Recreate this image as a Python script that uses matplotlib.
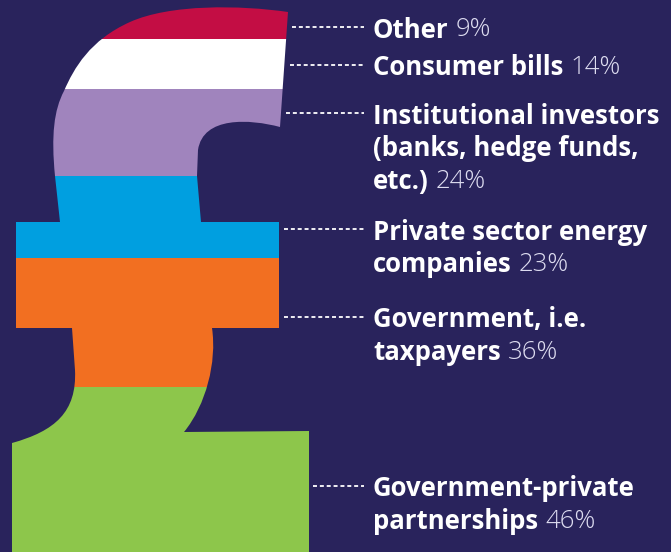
import matplotlib.pyplot as plt
from matplotlib.path import Path
from matplotlib.patches import PathPatch

# survey shares (multiple answers allowed, so they add up to more than 100)
labels = [
    "Other",
    "Consumer bills",
    "Institutional investors\n(banks, hedge funds,\netc.)",
    "Private sector energy\ncompanies",
    "Government, i.e.\ntaxpayers",
    "Government-private\npartnerships",
]
shares = [9, 14, 24, 23, 36, 46]
colors = ["#c30d44", "#ffffff", "#a084bd", "#009fe0", "#f26f21", "#8dc64b"]

BG = "#29235c"
W, H = 671, 552
PX_PER_PCT = 545 / sum(shares)


def dy(py):
    # pixel row (from top) -> stacked-percentage units
    return (H - py) / PX_PER_PCT


fig = plt.figure(figsize=(W / 100, H / 100), dpi=100, facecolor=BG)
ax = fig.add_axes([0, 0, 1, 1])
ax.set_facecolor(BG)
ax.set_xlim(0, W)
ax.set_ylim(0, H / PX_PER_PCT)
ax.axis("off")

# outline of the pound sign, in pixel coordinates
M, L, C, Z = Path.MOVETO, Path.LINETO, Path.CURVE4, Path.CLOSEPOLY
outline = [
    (M, (288, 12)),
    (L, (280, 127)),
    (C, (250, 119)), (C, (203, 116)), (C, (198, 150)),
    (L, (197, 176)),
    (L, (201, 222)),
    (L, (279, 222)),
    (L, (279, 328)),
    (L, (212, 328)),
    (C, (217, 362)), (C, (206, 405)), (C, (184, 432)),
    (L, (309, 431)),
    (L, (309, 552)),
    (L, (12, 552)),
    (L, (12, 443)),
    (C, (55, 431)), (C, (77, 412)), (C, (75, 370)),
    (L, (72, 328)),
    (L, (16, 328)),
    (L, (16, 222)),
    (L, (60, 222)),
    (L, (55, 176)),
    (C, (51, 135)), (C, (54, 110)), (C, (64, 91)),
    (C, (74, 68)), (C, (90, 40)), (C, (130, 22)),
    (C, (170, 4)), (C, (240, 5)), (C, (288, 12)),
    (Z, (288, 12)),
]
codes = [c for c, _ in outline]
verts = [(x, dy(y)) for _, (x, y) in outline]
pound = PathPatch(Path(verts, codes), facecolor="none", edgecolor="none")
ax.add_patch(pound)

# stacked bands, bottom-up, clipped to the pound sign
bottom = 0
for share, color in zip(shares[::-1], colors[::-1]):
    bars = ax.bar(160, share, width=330, bottom=bottom, color=color,
                  linewidth=0)
    for b in bars:
        b.set_clip_path(pound)
    bottom += share

# labels with dotted leaders
leader_y = [27, 65, 113, 229, 317, 486]
leader_x0 = [292, 290, 286, 284, 284, 313]
text_x = 373
line_h = 32.5
fs = 18.5
fig.canvas.draw()
renderer = fig.canvas.get_renderer()

for lab, share, y, x0 in zip(labels, shares, leader_y, leader_x0):
    ax.plot([x0, 364], [dy(y), dy(y)], color="white", lw=1.3,
            linestyle=(0, (2.2, 1.6)))
    lines = lab.split("\n")
    for i, line in enumerate(lines):
        yy = dy(y + i * line_h)
        t = ax.text(text_x, yy, line, color="white", fontsize=fs,
                    fontweight="bold", family="Open Sans",
                    va="center_baseline", ha="left")
    # percentage in a light weight right after the last bold line
    x_end = t.get_window_extent(renderer=renderer).x1
    x_pct = ax.transData.inverted().transform((x_end + 7, 0))[0]
    ax.text(x_pct, yy, f"{share}%", color="#dddcf0", fontsize=fs,
            fontweight="light", family="Open Sans",
            va="center_baseline", ha="left")

fig.savefig("out.png", dpi=100, facecolor=BG)
